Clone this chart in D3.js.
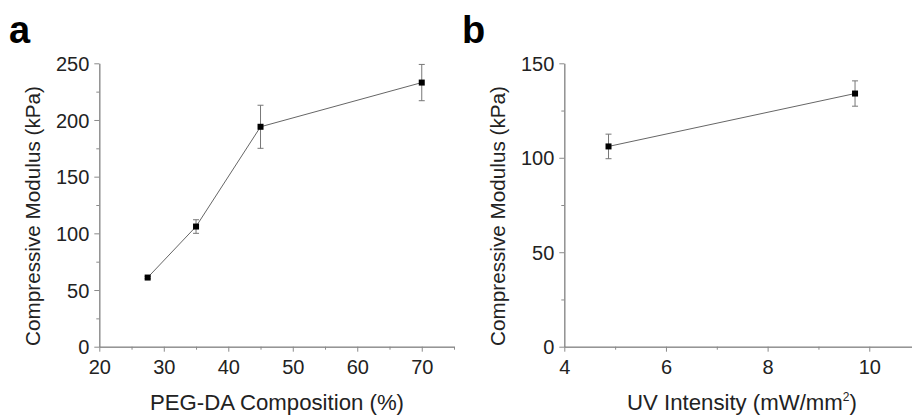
<!DOCTYPE html>
<html lang="en">
	<head>
		<meta charset="utf-8">
		<title>Compressive modulus vs PEG-DA composition and UV intensity</title>
		<script type="text/javascript" src="https://cdn.jsdelivr.net/npm/d3@7"></script>
		<style type="text/css">
			body { margin: 0; background: #fff; }
			text { font-family: "Liberation Sans", Arial, sans-serif; fill: #222; }
			.domain, .tick line { stroke: #8a8a8a; }
		</style>
	</head>
	<body>
		<script type="text/javascript">

			//Width and height
			var w = 912;
			var h = 417;

			//Panel a data: PEG-DA composition (%) vs modulus (kPa)
			var compA = [27.5, 35, 45, 70];
			var modA = [61, 106, 194, 233];
			var errA = [1, 6, 19, 16];

			//Panel b data: UV intensity (mW/mm2) vs modulus (kPa)
			var uvB = [4.87, 9.72];
			var modB = [106, 134];
			var errB = [6.5, 6.7];

			//Tick values
			var xTicksA = [20, 30, 40, 50, 60, 70];
			var xMinorA = [25, 35, 45, 55, 65, 75];
			var yTicksA = [0, 50, 100, 150, 200, 250];
			var yMinorA = [25, 75, 125, 175, 225];
			var xTicksB = [4, 6, 8, 10];
			var xMinorB = [5, 7, 9, 11];
			var yTicksB = [0, 50, 100, 150];
			var yMinorB = [25, 75, 125];

			var svg = d3.select("body")
						.append("svg")
						.attr("width", w)
						.attr("height", h);

			var fmt = d3.format("d");

			function panel(opt) {
				var x = d3.scaleLinear().domain(opt.xDomain).range(opt.xRange);
				var y = d3.scaleLinear().domain(opt.yDomain).range([346.7, 63.3]);
				var g = svg.append("g");

				//minor ticks first, no labels
				g.append("g")
				 .attr("transform", "translate(0," + y(0) + ")")
				 .call(d3.axisBottom(x).tickValues(opt.xMinor).tickSize(3).tickSizeOuter(0).tickFormat(""));
				g.append("g")
				 .attr("transform", "translate(" + x(opt.xDomain[0]) + ",0)")
				 .call(d3.axisLeft(y).tickValues(opt.yMinor).tickSize(3).tickSizeOuter(0).tickFormat(""));

				//major ticks
				var xa = g.append("g")
				 .attr("transform", "translate(0," + y(0) + ")")
				 .call(d3.axisBottom(x).tickValues(opt.xTicks).tickSize(5).tickSizeOuter(0).tickPadding(4).tickFormat(fmt));
				var ya = g.append("g")
				 .attr("transform", "translate(" + x(opt.xDomain[0]) + ",0)")
				 .call(d3.axisLeft(y).tickValues(opt.yTicks).tickSize(5).tickSizeOuter(0).tickPadding(5).tickFormat(fmt));
				g.selectAll(".tick text").style("font-size", "20px").style("fill", "#222");
				xa.selectAll(".tick text").attr("dy", "0.9em");
				ya.selectAll(".tick text").attr("dy", "0.36em");

				//connecting line
				var pts = opt.xs.map(function(d, i) { return [d, opt.ys[i], opt.es[i]]; });
				g.append("path")
				 .datum(pts)
				 .attr("fill", "none")
				 .attr("stroke", "#666")
				 .attr("stroke-width", 1)
				 .attr("d", d3.line().x(function(d) { return x(d[0]); }).y(function(d) { return y(d[1]); }));

				//error bars
				var eb = g.selectAll(".eb").data(pts).enter().append("g")
				 .attr("stroke", "#777").attr("stroke-width", 1);
				eb.append("line")
				 .attr("x1", function(d) { return x(d[0]); }).attr("x2", function(d) { return x(d[0]); })
				 .attr("y1", function(d) { return y(d[1] - d[2]); }).attr("y2", function(d) { return y(d[1] + d[2]); });
				eb.append("line")
				 .attr("x1", function(d) { return x(d[0]) - 3; }).attr("x2", function(d) { return x(d[0]) + 3; })
				 .attr("y1", function(d) { return y(d[1] + d[2]); }).attr("y2", function(d) { return y(d[1] + d[2]); });
				eb.append("line")
				 .attr("x1", function(d) { return x(d[0]) - 3; }).attr("x2", function(d) { return x(d[0]) + 3; })
				 .attr("y1", function(d) { return y(d[1] - d[2]); }).attr("y2", function(d) { return y(d[1] - d[2]); });

				//square markers
				g.selectAll(".pt").data(pts).enter().append("rect")
				 .attr("x", function(d) { return x(d[0]) - 3; })
				 .attr("y", function(d) { return y(d[1]) - 3; })
				 .attr("width", 6).attr("height", 6)
				 .attr("fill", "#000");

				//y title
				g.append("text")
				 .attr("transform", "translate(" + opt.yTitleX + ",216) rotate(-90)")
				 .attr("text-anchor", "middle")
				 .style("font-size", "20.7px")
				 .text("Compressive Modulus (kPa)");

				//x title
				var xt = g.append("text")
				 .attr("x", opt.xTitleX)
				 .attr("y", 410)
				 .attr("text-anchor", "middle")
				 .style("font-size", "22.2px");
				xt.append("tspan").text(opt.xTitle);
				if (opt.sup) {
					xt.append("tspan").attr("dy", -9).style("font-size", "12px").text(opt.sup);
					xt.append("tspan").attr("dy", 9).text(")");
				}

				//panel letter
				g.append("text")
				 .attr("x", opt.letterX)
				 .attr("y", 43)
				 .style("font-size", "38px")
				 .style("font-weight", "bold")
				 .style("fill", "#000")
				 .text(opt.letter);
			}

			panel({
				xDomain: [20, 75], xRange: [99.3, 454], yDomain: [0, 250],
				xTicks: xTicksA, xMinor: xMinorA, yTicks: yTicksA, yMinor: yMinorA,
				xs: compA, ys: modA, es: errA,
				yTitleX: 40, xTitleX: 277, xTitle: "PEG-DA Composition (%)",
				letter: "a", letterX: 9
			});

			panel({
				xDomain: [4, 11], xRange: [564.3, 920.1], yDomain: [0, 150],
				xTicks: xTicksB, xMinor: xMinorB, yTicks: yTicksB, yMinor: yMinorB,
				xs: uvB, ys: modB, es: errB,
				yTitleX: 505, xTitleX: 742, xTitle: "UV Intensity (mW/mm", sup: "2",
				letter: "b", letterX: 462
			});

		</script>
	</body>
</html>
